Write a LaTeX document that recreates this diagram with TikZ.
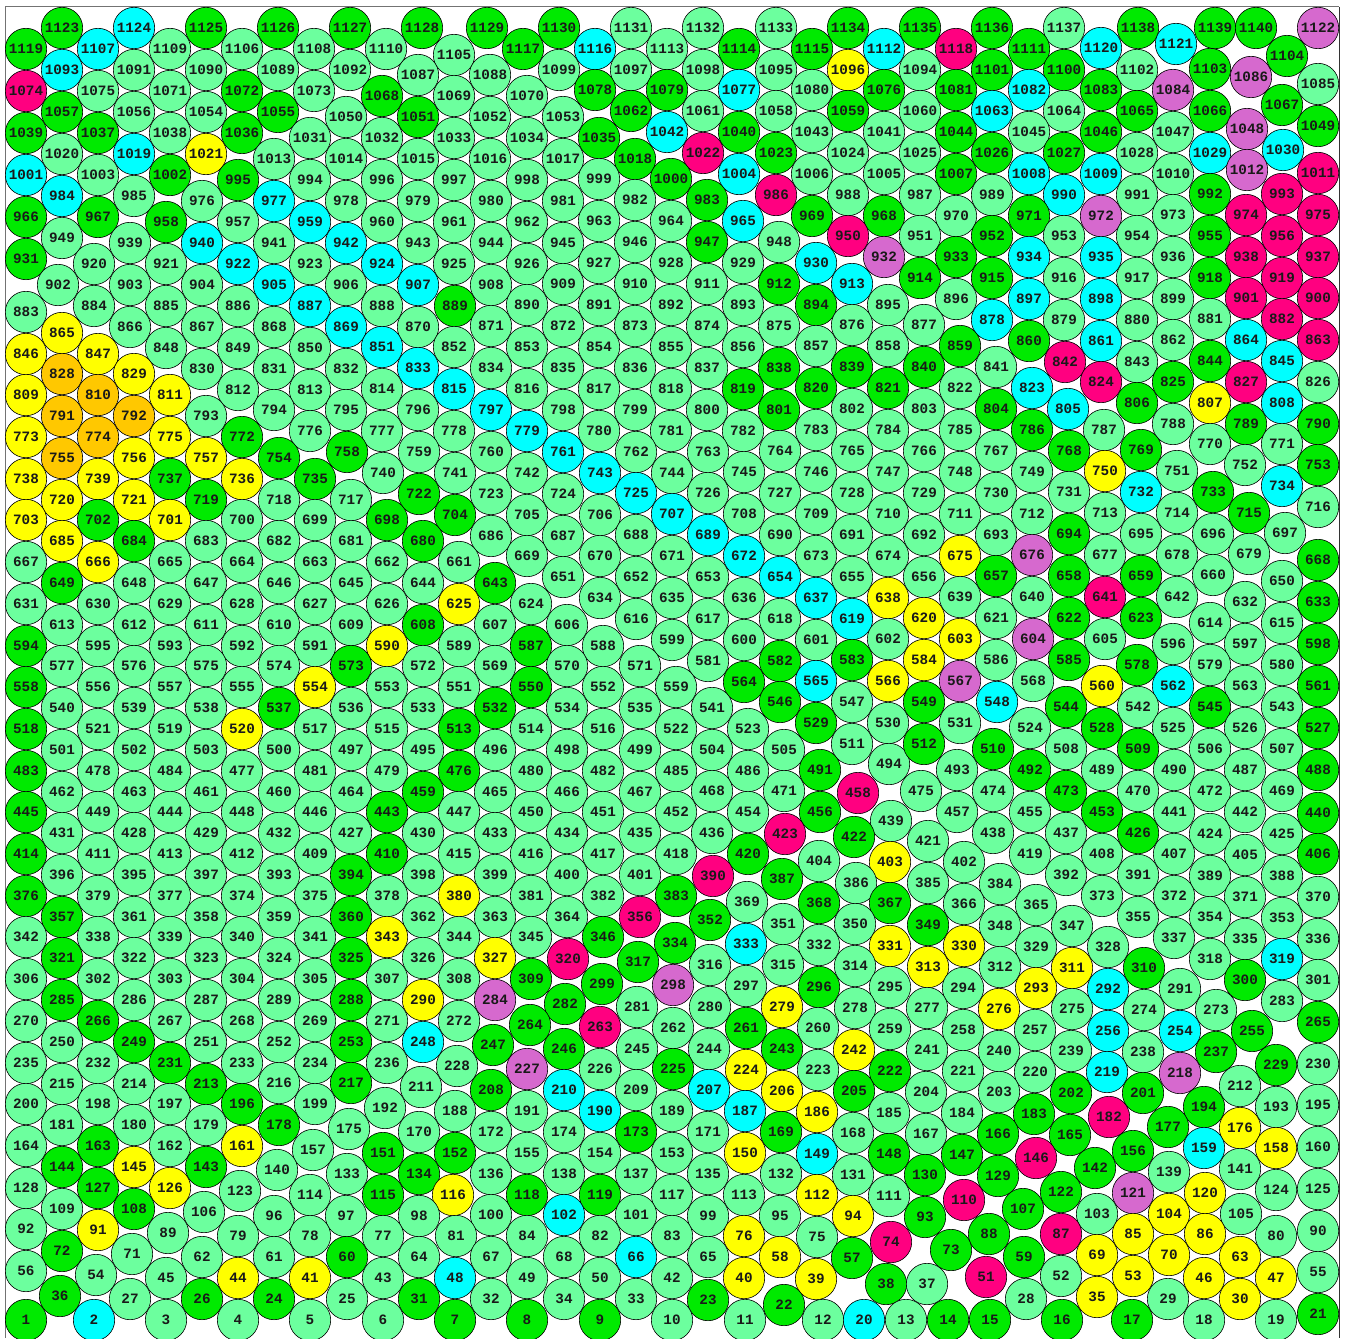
\documentclass[tikz,border=0pt]{standalone}
\usepackage{fontspec}
\setmonofont{Liberation Mono}
\definecolor{clg}{HTML}{6CFF9E}
\definecolor{cgr}{HTML}{00EA00}
\definecolor{ccy}{HTML}{00FFFF}
\definecolor{cye}{HTML}{FFFF00}
\definecolor{cor}{HTML}{FFC800}
\definecolor{cpk}{HTML}{FF0080}
\definecolor{cvi}{HTML}{D669CE}
\tikzset{bub/.style={circle,draw=black,line width=0.6pt,inner sep=0pt,outer sep=0pt,minimum size=41.4pt,text=black!90,font=\ttfamily\bfseries\fontsize{14.3}{15}\selectfont},
cL/.style={fill=clg},cG/.style={fill=cgr},cC/.style={fill=ccy},cY/.style={fill=cye},cO/.style={fill=cor},cP/.style={fill=cpk},cV/.style={fill=cvi}}
\def\N#1 #2 #3 #4;{\node[bub,c#1] (n#4) at (#2,#3) {#4};}
\begin{document}
\begin{tikzpicture}[x=1pt,y=-1pt]
\useasboundingbox (0,0) rectangle (1346,1338);
\fill[white] (0,0) rectangle (1346,1338);
\draw[black!55,line width=1pt] (5,7) -- (1339,7);
\draw[black!55,line width=1pt] (5,7) -- (5,1338);
\draw[black!80,line width=1pt] (1339,7) -- (1339,1338);
\N G 62 28 1123; \N C 134 28 1124; \N G 206 28 1125; \N G 278 28 1126; \N G 350 28 1127; \N G 422 28 1128;
\N G 26 49 1119; \N C 98 49 1107; \N L 170 49 1109; \N L 242 49 1106; \N L 314 49 1108; \N L 386 49 1110; \N L 454 55 1105;
\N C 62 70 1093; \N L 134 70 1091; \N L 206 70 1090; \N L 278 70 1089; \N L 350 70 1092; \N L 418 75 1087;
\N P 26 91 1074; \N L 98 91 1075; \N L 170 91 1071; \N G 242 91 1072; \N L 314 91 1073; \N G 382 96 1068; \N L 454 96 1069;
\N G 62 112 1057; \N L 134 112 1056; \N L 206 112 1054; \N G 278 112 1055; \N L 346 117 1050; \N G 418 117 1051;
\N G 26 133 1039; \N G 98 133 1037; \N L 170 133 1038; \N G 242 133 1036; \N L 310 138 1031; \N L 382 138 1032; \N L 454 138 1033;
\N L 62 154 1020; \N C 134 154 1019; \N Y 206 154 1021; \N L 274 159 1013; \N L 346 159 1014; \N L 418 159 1015;
\N C 26 175 1001; \N L 98 175 1003; \N G 170 175 1002; \N G 238 180 995; \N L 310 180 994; \N L 382 180 996; \N L 454 180 997;
\N C 62 196 984; \N L 134 196 985; \N L 202 201 976; \N C 274 201 977; \N L 346 201 978; \N L 418 201 979;
\N G 26 217 966; \N G 98 217 967; \N G 166 222 958; \N L 238 222 957; \N C 310 222 959; \N L 382 222 960; \N L 454 222 961;
\N L 62 238 949; \N L 130 243 939; \N C 202 243 940; \N L 274 243 941; \N C 346 243 942; \N L 418 243 943;
\N G 26 259 931; \N L 94 264 920; \N L 166 264 921; \N C 238 264 922; \N L 310 264 923; \N C 382 264 924; \N L 454 264 925;
\N L 58 285 902; \N L 130 285 903; \N L 202 285 904; \N C 274 285 905; \N L 346 285 906; \N C 418 285 907; \N L 491 285 908;
\N L 26 312 883; \N L 94 306 884; \N L 166 306 885; \N L 238 306 886; \N C 310 306 887; \N L 382 306 888; \N G 455 306 889;
\N Y 62 333 865; \N L 130 327 866; \N L 202 327 867; \N L 274 327 868; \N C 346 327 869; \N L 418 327 870; \N L 491 326 871;
\N Y 26 354 846; \N Y 98 354 847; \N L 166 348 848; \N L 238 348 849; \N L 310 348 850; \N C 382 347 851; \N L 454 347 852;
\N O 62 374 828; \N Y 134 374 829; \N L 202 369 830; \N L 274 369 831; \N L 346 369 832; \N C 418 368 833; \N L 491 368 834;
\N Y 26 395 809; \N O 98 395 810; \N Y 170 395 811; \N L 238 390 812; \N L 310 390 813; \N L 382 389 814; \N C 454 389 815;
\N O 62 416 791; \N O 134 416 792; \N L 206 416 793; \N L 274 410 794; \N L 346 410 795; \N L 418 410 796; \N C 491 410 797;
\N Y 26 437 773; \N O 98 437 774; \N Y 170 437 775; \N G 242 437 772; \N L 310 431 776; \N L 382 431 777; \N L 454 431 778;
\N O 62 458 755; \N Y 134 458 756; \N Y 206 458 757; \N G 279 458 754; \N G 347 452 758; \N L 419 452 759;
\N Y 26 479 738; \N Y 98 479 739; \N G 170 479 737; \N Y 242 479 736; \N G 315 479 735; \N L 383 473 740; \N L 455 473 741;
\N Y 62 500 720; \N Y 134 500 721; \N G 206 500 719; \N L 279 500 718; \N L 351 500 717; \N G 419 494 722; \N L 491 494 723;
\N Y 26 520 703; \N G 98 520 702; \N Y 170 520 701; \N L 242 520 700; \N L 315 520 699; \N G 387 520 698; \N G 455 515 704;
\N Y 62 541 685; \N G 134 541 684; \N L 206 541 683; \N L 279 541 682; \N L 351 541 681; \N G 423 541 680; \N L 491 536 686;
\N L 26 562 667; \N Y 98 562 666; \N L 170 562 665; \N L 242 562 664; \N L 315 562 663; \N L 387 562 662; \N L 459 562 661;
\N G 62 583 649; \N L 134 583 648; \N L 206 583 647; \N L 279 583 646; \N L 351 583 645; \N L 423 583 644; \N G 495 583 643;
\N L 26 604 631; \N L 98 604 630; \N L 170 604 629; \N L 242 604 628; \N L 315 604 627; \N L 387 604 626; \N Y 459 604 625;
\N L 62 625 613; \N L 134 625 612; \N L 206 625 611; \N L 279 625 610; \N L 351 625 609; \N G 423 625 608; \N L 495 625 607;
\N G 26 646 594; \N L 98 646 595; \N L 170 646 593; \N L 242 646 592; \N L 315 646 591; \N Y 387 646 590; \N L 459 646 589;
\N L 62 666 577; \N L 134 666 576; \N L 206 666 575; \N L 279 666 574; \N G 351 666 573; \N L 423 666 572; \N L 495 666 569;
\N G 26 687 558; \N L 98 687 556; \N L 170 687 557; \N L 242 687 555; \N Y 315 687 554; \N L 387 687 553; \N L 459 687 551;
\N L 62 708 540; \N L 134 708 539; \N L 206 708 538; \N G 279 708 537; \N L 351 708 536; \N L 423 708 533; \N G 495 708 532;
\N G 26 729 518; \N L 98 729 521; \N L 170 729 519; \N Y 242 729 520; \N L 315 729 517; \N L 387 729 515; \N G 459 729 513;
\N L 62 750 501; \N L 134 750 502; \N L 206 750 503; \N L 279 750 500; \N L 351 750 497; \N L 423 750 495; \N L 495 750 496;
\N G 26 771 483; \N L 98 771 478; \N L 170 771 484; \N L 242 771 477; \N L 315 771 481; \N L 387 771 479; \N G 459 771 476;
\N L 62 792 462; \N L 134 792 463; \N L 206 792 461; \N L 279 792 460; \N L 351 792 464; \N G 423 792 459; \N L 495 792 465;
\N G 26 812 445; \N L 98 812 449; \N L 170 812 444; \N L 242 812 448; \N L 315 812 446; \N G 387 812 443; \N L 459 812 447;
\N L 62 833 431; \N L 134 833 428; \N L 206 833 429; \N L 279 833 432; \N L 351 833 427; \N L 423 833 430; \N L 495 833 433;
\N G 26 854 414; \N L 98 854 411; \N L 170 854 413; \N L 242 854 412; \N L 315 854 409; \N G 387 854 410; \N L 459 854 415;
\N L 62 875 396; \N L 134 875 395; \N L 206 875 397; \N L 279 875 393; \N G 351 875 394; \N L 423 875 398; \N L 495 875 399;
\N G 26 896 376; \N L 98 896 379; \N L 170 896 377; \N L 242 896 374; \N L 315 896 375; \N L 387 896 378; \N Y 459 896 380;
\N G 62 917 357; \N L 134 917 361; \N L 206 917 358; \N L 279 917 359; \N G 351 917 360; \N L 423 917 362; \N L 495 917 363;
\N L 26 937 342; \N L 98 937 338; \N L 170 937 339; \N L 242 937 340; \N L 315 937 341; \N Y 387 937 343; \N L 459 937 344;
\N G 62 958 321; \N L 134 958 322; \N L 206 958 323; \N L 279 958 324; \N G 351 958 325; \N L 423 958 326; \N Y 495 958 327;
\N L 26 979 306; \N L 98 979 302; \N L 170 979 303; \N L 242 979 304; \N L 315 979 305; \N L 387 979 307; \N L 459 979 308;
\N G 62 1000 285; \N L 134 1000 286; \N L 206 1000 287; \N L 279 1000 289; \N G 351 1000 288; \N Y 423 1000 290; \N V 495 1000 284;
\N L 26 1021 270; \N G 98 1021 266; \N L 170 1021 267; \N L 242 1021 268; \N L 315 1021 269; \N L 387 1021 271; \N L 459 1021 272;
\N L 62 1042 250; \N G 134 1042 249; \N L 206 1042 251; \N L 279 1042 252; \N G 351 1042 253; \N C 423 1042 248; \N G 493 1045 247;
\N L 26 1063 235; \N L 98 1063 232; \N G 170 1063 231; \N L 242 1063 233; \N L 315 1063 234; \N L 387 1063 236; \N L 457 1066 228;
\N L 62 1084 215; \N L 134 1084 214; \N G 206 1084 213; \N L 279 1083 216; \N G 351 1083 217; \N L 421 1087 211; \N G 491 1090 208;
\N L 26 1104 200; \N L 98 1104 198; \N L 170 1104 197; \N G 242 1104 196; \N L 315 1104 199; \N L 385 1108 192; \N L 455 1111 188;
\N L 62 1125 181; \N L 134 1125 180; \N L 206 1125 179; \N G 279 1125 178; \N L 349 1129 175; \N L 419 1132 170; \N L 491 1132 172;
\N L 26 1146 164; \N G 98 1146 163; \N L 170 1146 162; \N Y 242 1146 161; \N L 313 1150 157; \N G 383 1153 151; \N G 455 1153 152;
\N G 62 1167 144; \N Y 134 1167 145; \N G 206 1167 143; \N L 277 1170 140; \N L 347 1174 133; \N G 419 1174 134; \N L 491 1174 136;
\N L 26 1188 128; \N G 98 1188 127; \N Y 170 1188 126; \N L 240 1191 123; \N L 310 1195 114; \N G 383 1195 115; \N Y 453 1195 116;
\N L 62 1209 109; \N G 134 1209 108; \N L 204 1212 106; \N L 274 1216 96; \N L 346 1216 97; \N L 419 1216 98; \N L 491 1215 100;
\N L 26 1229 92; \N Y 98 1230 91; \N L 168 1233 89; \N L 238 1236 79; \N L 310 1236 78; \N L 383 1236 77; \N L 456 1236 81;
\N G 62 1251 72; \N L 132 1254 71; \N L 202 1257 62; \N L 274 1257 61; \N G 347 1257 60; \N L 419 1257 64; \N L 491 1257 67;
\N L 26 1271 56; \N L 96 1275 54; \N L 166 1278 45; \N Y 238 1278 44; \N Y 310 1278 41; \N L 383 1278 43; \N C 455 1278 48;
\N G 60 1296 36; \N L 130 1299 27; \N G 202 1299 26; \N G 274 1299 24; \N L 347 1299 25; \N G 419 1299 31; \N L 491 1299 32;
\N G 26 1320 1; \N C 94 1320 2; \N L 166 1320 3; \N L 238 1320 4; \N L 310 1320 5; \N L 383 1320 6; \N G 455 1320 7;
\N G 487 28 1129; \N G 559 28 1130; \N L 631 28 1131; \N L 703 28 1132; \N L 776 28 1133; \N G 848 28 1134;
\N G 523 49 1117; \N C 595 49 1116; \N L 667 49 1113; \N G 739 49 1114; \N G 812 49 1115; \N C 884 49 1112;
\N L 490 75 1088; \N L 559 70 1099; \N L 631 70 1097; \N L 703 70 1098; \N L 776 70 1095; \N Y 848 70 1096;
\N L 527 96 1070; \N G 595 90 1078; \N G 667 90 1079; \N C 739 90 1077; \N L 812 90 1080; \N G 884 90 1076;
\N L 490 117 1052; \N L 563 117 1053; \N G 631 111 1062; \N L 703 111 1061; \N L 776 111 1058; \N G 848 111 1059;
\N L 527 138 1034; \N G 599 138 1035; \N C 667 132 1042; \N G 739 132 1040; \N L 812 132 1043; \N L 884 132 1041;
\N L 490 159 1016; \N L 563 159 1017; \N G 635 159 1018; \N P 703 153 1022; \N G 776 153 1023; \N L 848 153 1024;
\N L 527 180 998; \N L 599 179 999; \N G 671 179 1000; \N C 739 174 1004; \N L 812 174 1006; \N L 884 174 1005;
\N L 491 201 980; \N L 563 201 981; \N L 635 200 982; \N G 707 200 983; \N P 776 195 986; \N L 848 195 988;
\N L 527 222 962; \N L 599 221 963; \N L 671 221 964; \N C 743 221 965; \N G 812 216 969; \N G 884 216 968;
\N L 491 243 944; \N L 563 243 945; \N L 635 242 946; \N G 707 242 947; \N L 779 242 948; \N P 848 236 950;
\N L 527 264 926; \N L 599 263 927; \N L 671 263 928; \N L 743 263 929; \N C 816 263 930; \N V 884 257 932;
\N L 563 284 909; \N L 635 284 910; \N L 707 284 911; \N G 779 284 912; \N C 852 284 913;
\N L 527 305 890; \N L 599 305 891; \N L 671 305 892; \N L 743 305 893; \N G 816 305 894; \N L 888 305 895;
\N L 563 326 872; \N L 635 326 873; \N L 707 326 874; \N L 779 326 875; \N L 852 325 876;
\N L 527 347 853; \N L 599 347 854; \N L 671 347 855; \N L 743 347 856; \N L 816 346 857; \N L 888 346 858;
\N L 563 368 835; \N L 635 368 836; \N L 707 368 837; \N G 779 368 838; \N G 852 367 839;
\N L 527 389 816; \N L 599 389 817; \N L 671 389 818; \N G 743 389 819; \N G 816 388 820; \N G 888 388 821;
\N L 563 410 798; \N L 635 410 799; \N L 707 410 800; \N G 779 410 801; \N L 852 409 802;
\N C 527 431 779; \N L 599 431 780; \N L 671 431 781; \N L 743 431 782; \N L 816 430 783; \N L 888 430 784;
\N L 491 452 760; \N C 563 452 761; \N L 636 452 762; \N L 708 452 763; \N L 780 451 764; \N L 852 451 765;
\N L 527 473 742; \N C 600 473 743; \N L 672 473 744; \N L 744 472 745; \N L 816 472 746; \N L 888 472 747;
\N L 563 494 724; \N C 636 493 725; \N L 708 493 726; \N L 780 493 727; \N L 852 493 728;
\N L 527 515 705; \N L 600 515 706; \N C 672 514 707; \N L 744 514 708; \N L 816 514 709; \N L 888 514 710;
\N L 563 536 687; \N L 636 535 688; \N C 708 535 689; \N L 780 535 690; \N L 852 535 691;
\N L 527 556 669; \N L 600 556 670; \N L 672 556 671; \N C 744 556 672; \N L 816 556 673; \N L 888 556 674;
\N L 563 577 651; \N L 636 577 652; \N L 708 577 653; \N C 780 577 654; \N L 852 577 655;
\N L 531 604 624; \N L 600 598 634; \N L 672 598 635; \N L 744 598 636; \N C 816 598 637; \N Y 888 598 638;
\N L 567 625 606; \N L 636 619 616; \N L 708 619 617; \N L 780 619 618; \N C 852 619 619;
\N G 531 646 587; \N L 603 646 588; \N L 672 640 599; \N L 744 640 600; \N L 816 640 601; \N L 888 639 602;
\N L 567 666 570; \N L 640 666 571; \N L 708 661 581; \N G 780 661 582; \N G 852 660 583;
\N G 531 687 550; \N L 603 687 552; \N L 676 687 559; \N G 744 682 564; \N C 816 681 565; \N Y 888 681 566;
\N L 567 708 534; \N L 640 708 535; \N L 712 708 541; \N G 780 702 546; \N L 852 702 547;
\N L 531 729 514; \N L 603 729 516; \N L 676 729 522; \N L 748 729 523; \N G 816 723 529; \N L 888 723 530;
\N L 567 750 498; \N L 640 750 499; \N L 712 750 504; \N L 784 750 505; \N L 852 744 511;
\N L 531 771 480; \N L 603 771 482; \N L 676 771 485; \N L 748 771 486; \N G 820 770 491; \N L 889 764 494;
\N L 567 792 466; \N L 640 792 467; \N L 712 791 468; \N L 784 791 471; \N P 858 793 458;
\N L 531 812 450; \N L 603 812 451; \N L 676 812 452; \N L 748 812 454; \N G 820 812 456; \N L 891 821 439;
\N L 567 833 434; \N L 640 833 435; \N L 712 833 436; \N P 785 834 423; \N G 854 837 422;
\N L 531 854 416; \N L 603 854 417; \N L 676 854 418; \N G 748 854 420; \N L 819 861 404; \N Y 890 862 403;
\N L 567 875 400; \N L 640 875 401; \N P 713 876 390; \N G 782 879 387; \N L 856 883 386;
\N L 531 896 381; \N L 603 896 382; \N G 676 896 383; \N L 747 902 369; \N G 819 903 368; \N G 890 903 367;
\N L 567 917 364; \N P 640 917 356; \N G 710 920 352; \N L 783 924 351; \N L 855 924 350;
\N L 531 937 345; \N G 603 937 346; \N G 675 943 334; \N C 746 944 333; \N L 819 945 332; \N Y 890 946 331;
\N P 568 959 320; \N G 638 962 317; \N L 710 965 316; \N L 783 965 315; \N L 855 966 314;
\N G 531 979 309; \N G 602 984 299; \N V 673 985 298; \N L 746 986 297; \N G 819 987 296; \N L 890 987 295;
\N G 565 1004 282; \N L 637 1007 281; \N L 710 1007 280; \N Y 782 1007 279; \N L 855 1008 278;
\N G 530 1025 264; \N P 600 1027 263; \N L 673 1028 262; \N G 746 1028 261; \N L 818 1028 260; \N L 890 1029 259;
\N G 564 1049 246; \N L 637 1049 245; \N L 709 1049 244; \N G 782 1049 243; \N Y 854 1050 242;
\N V 527 1069 227; \N L 600 1069 226; \N G 673 1069 225; \N Y 746 1070 224; \N L 818 1070 223; \N G 890 1071 222;
\N C 564 1090 210; \N L 636 1090 209; \N C 709 1090 207; \N Y 782 1091 206; \N G 854 1091 205;
\N L 527 1111 191; \N C 600 1111 190; \N L 672 1111 189; \N C 745 1111 187; \N Y 817 1112 186; \N L 889 1113 185;
\N L 564 1132 174; \N G 636 1132 173; \N L 708 1132 171; \N G 781 1132 169; \N L 853 1133 168;
\N L 527 1153 155; \N L 600 1153 154; \N L 672 1153 153; \N Y 745 1153 150; \N C 817 1154 149; \N G 889 1154 148;
\N L 564 1174 138; \N L 636 1174 137; \N L 708 1174 135; \N L 781 1174 132; \N L 853 1175 131;
\N G 527 1195 118; \N G 600 1195 119; \N L 672 1195 117; \N L 744 1195 113; \N Y 817 1195 112; \N L 889 1196 111;
\N C 564 1215 102; \N L 636 1215 101; \N L 708 1216 99; \N L 780 1216 95; \N Y 853 1216 94;
\N L 527 1236 84; \N L 600 1236 82; \N L 672 1236 83; \N Y 744 1236 76; \N L 817 1237 75; \N P 891 1242 74;
\N L 564 1257 68; \N C 636 1257 66; \N L 708 1257 65; \N Y 780 1257 58; \N G 852 1258 57;
\N L 527 1278 49; \N L 600 1278 50; \N L 672 1278 42; \N Y 744 1278 40; \N Y 816 1279 39; \N G 886 1284 38;
\N L 564 1299 34; \N L 636 1299 33; \N G 708 1300 23; \N G 784 1305 22;
\N G 527 1320 8; \N G 600 1320 9; \N L 672 1320 10; \N L 745 1320 11; \N L 823 1320 12; \N C 864 1320 20;
\N G 920 28 1135; \N G 992 28 1136; \N L 1064 28 1137; \N G 1138 28 1138; \N G 1215 28 1139; \N G 1256 28 1140; \N V 1318 28 1122;
\N P 956 49 1118; \N G 1029 49 1111; \N C 1101 48 1120; \N C 1176 44 1121; \N G 1287 56 1104;
\N L 920 70 1094; \N G 992 70 1101; \N G 1064 70 1100; \N L 1137 70 1102; \N G 1210 69 1103; \N V 1251 77 1086; \N L 1318 84 1085;
\N G 956 90 1081; \N C 1029 90 1082; \N G 1101 90 1083; \N V 1173 90 1084; \N G 1282 105 1067;
\N L 920 111 1060; \N C 992 111 1063; \N L 1064 111 1064; \N G 1137 111 1065; \N G 1210 111 1066; \N G 1318 126 1049; \N V 1247 129 1048;
\N G 956 132 1044; \N L 1029 132 1045; \N G 1101 132 1046; \N L 1173 132 1047; \N C 1283 150 1030;
\N L 920 153 1025; \N G 992 153 1026; \N G 1064 153 1027; \N L 1137 153 1028; \N C 1210 153 1029; \N V 1247 170 1012; \N P 1318 173 1011;
\N G 956 174 1007; \N C 1029 174 1008; \N C 1101 174 1009; \N L 1173 174 1010; \N P 1282 194 993;
\N L 920 195 987; \N L 992 195 989; \N C 1064 195 990; \N L 1137 195 991; \N G 1210 194 992; \N P 1246 215 974; \N P 1318 215 975;
\N L 956 216 970; \N G 1029 216 971; \N V 1101 216 972; \N L 1173 215 973;
\N L 920 236 951; \N G 992 236 952; \N L 1064 236 953; \N L 1137 236 954; \N G 1210 236 955; \N P 1282 236 956;
\N G 956 257 933; \N C 1029 257 934; \N C 1101 257 935; \N L 1173 257 936; \N P 1246 257 938; \N P 1318 257 937;
\N G 920 278 914; \N G 992 278 915; \N L 1064 278 916; \N L 1137 278 917; \N G 1210 278 918; \N P 1282 278 919;
\N L 956 299 896; \N C 1029 299 897; \N C 1101 299 898; \N L 1173 299 899; \N P 1246 298 901; \N P 1318 298 900;
\N L 924 325 877; \N C 992 320 878; \N L 1064 320 879; \N L 1137 320 880; \N L 1210 319 881; \N P 1282 319 882;
\N G 960 346 859; \N G 1029 341 860; \N C 1101 341 861; \N L 1173 340 862; \N C 1246 340 864; \N P 1318 340 863;
\N G 924 367 840; \N L 996 367 841; \N P 1065 362 842; \N L 1137 362 843; \N G 1210 361 844; \N C 1282 361 845;
\N L 960 388 822; \N C 1032 388 823; \N P 1101 382 824; \N G 1173 382 825; \N P 1246 382 827; \N L 1318 382 826;
\N L 924 409 803; \N G 996 409 804; \N C 1068 409 805; \N G 1137 403 806; \N Y 1210 403 807; \N C 1282 403 808;
\N L 960 430 785; \N G 1032 430 786; \N L 1104 430 787; \N L 1173 424 788; \N G 1246 424 789; \N G 1318 424 790;
\N L 1210 444 770; \N L 1282 444 771;
\N L 924 451 766; \N L 996 451 767; \N G 1069 451 768; \N G 1141 450 769;
\N L 960 472 748; \N L 1032 472 749; \N Y 1105 471 750; \N L 1177 471 751; \N L 1245 465 752; \N G 1318 465 753;
\N L 924 493 729; \N L 996 493 730; \N L 1069 492 731; \N C 1141 492 732; \N G 1213 492 733; \N C 1282 486 734; \N L 1318 507 716;
\N L 960 514 711; \N L 1032 514 712; \N L 1105 513 713; \N L 1177 513 714; \N G 1249 513 715;
\N L 924 535 692; \N L 996 535 693; \N G 1069 534 694; \N L 1141 534 695; \N L 1213 534 696; \N L 1285 533 697;
\N Y 960 556 675; \N V 1032 555 676; \N L 1105 555 677; \N L 1177 555 678; \N L 1249 554 679; \N G 1318 560 668;
\N L 924 577 656; \N G 996 576 657; \N G 1069 576 658; \N G 1141 576 659; \N L 1213 575 660; \N L 1282 581 650;
\N L 960 597 639; \N L 1032 597 640; \N P 1105 597 641; \N L 1177 597 642; \N L 1245 602 632; \N G 1318 602 633;
\N Y 924 618 620; \N L 996 618 621; \N G 1069 618 622; \N G 1141 618 623; \N L 1210 623 614; \N L 1282 623 615;
\N Y 960 639 603; \N V 1033 639 604; \N L 1105 639 605; \N L 1173 644 596; \N L 1245 644 597; \N G 1318 644 598;
\N Y 924 660 584; \N L 996 660 586; \N G 1069 660 585; \N G 1137 665 578; \N L 1210 665 579; \N L 1282 665 580;
\N V 960 681 567; \N L 1033 681 568; \N Y 1102 686 560; \N C 1173 686 562; \N L 1245 686 563; \N G 1318 686 561;
\N G 924 702 549; \N C 997 702 548; \N G 1066 707 544; \N L 1138 707 542; \N G 1210 707 545; \N L 1282 707 543;
\N L 960 723 531; \N L 1030 728 524; \N G 1102 728 528; \N L 1173 728 525; \N L 1245 728 526; \N G 1318 728 527;
\N G 924 744 512; \N G 993 749 510; \N L 1066 749 508; \N G 1138 749 509; \N L 1210 749 506; \N L 1282 749 507;
\N L 957 770 493; \N G 1030 770 492; \N L 1102 770 489; \N L 1174 770 490; \N L 1245 770 487; \N G 1318 770 488;
\N L 921 791 475; \N L 993 791 474; \N G 1066 791 473; \N L 1138 791 470; \N L 1210 791 472; \N L 1282 791 469;
\N L 957 812 457; \N L 1030 812 455; \N G 1102 812 453; \N L 1174 812 441; \N L 1245 812 442; \N G 1318 813 440;
\N L 993 833 438; \N L 1066 833 437; \N G 1138 833 426; \N L 1210 834 424; \N L 1282 834 425;
\N L 928 841 421; \N L 1030 854 419; \N L 1102 854 408; \N L 1174 854 407; \N L 1245 855 405; \N G 1318 854 406;
\N L 964 862 402; \N L 1066 875 392; \N L 1138 875 391; \N L 1210 876 389; \N L 1282 876 388;
\N L 928 883 385; \N L 1000 884 384;
\N L 1102 896 373; \N L 1174 896 372; \N L 1245 897 371; \N L 1318 897 370;
\N L 964 904 366; \N L 1036 905 365; \N L 1138 917 355; \N L 1210 917 354; \N L 1282 918 353;
\N G 928 925 349; \N L 1000 926 348; \N L 1072 926 347; \N L 1174 938 337; \N L 1245 939 335; \N L 1318 939 336;
\N Y 964 946 330; \N L 1036 947 329; \N L 1108 947 328; \N L 1210 959 318; \N C 1282 959 319;
\N Y 928 967 313; \N L 1000 967 312; \N Y 1072 968 311; \N G 1144 968 310; \N G 1245 980 300; \N L 1318 980 301;
\N L 963 988 294; \N Y 1036 988 293; \N C 1108 989 292; \N L 1180 989 291; \N L 1282 1001 283;
\N L 927 1008 277; \N Y 999 1009 276; \N L 1072 1009 275; \N L 1144 1010 274; \N L 1216 1010 273; \N G 1318 1022 265;
\N L 963 1030 258; \N L 1035 1030 257; \N C 1108 1031 256; \N C 1180 1031 254; \N G 1252 1031 255;
\N L 927 1050 241; \N L 999 1051 240; \N L 1071 1051 239; \N L 1143 1052 238; \N G 1216 1052 237; \N L 1318 1064 230; \N G 1276 1065 229;
\N L 963 1071 221; \N L 1035 1072 220; \N C 1107 1072 219; \N V 1180 1073 218; \N L 1240 1086 212;
\N L 926 1092 204; \N L 999 1092 203; \N G 1071 1093 202; \N G 1143 1093 201; \N L 1318 1105 195; \N G 1204 1107 194; \N L 1276 1107 193;
\N L 962 1113 184; \N G 1034 1114 183; \N P 1109 1117 182; \N G 1168 1127 177; \N Y 1240 1128 176;
\N L 926 1134 167; \N G 998 1134 166; \N G 1070 1135 165; \N L 1318 1147 160; \N C 1204 1148 159; \N Y 1276 1148 158; \N G 1133 1151 156;
\N G 962 1155 147; \N P 1036 1158 146; \N G 1095 1168 142; \N L 1240 1169 141; \N L 1169 1172 139;
\N G 925 1175 130; \N G 998 1176 129; \N L 1318 1189 125; \N L 1276 1190 124; \N G 1061 1192 122; \N V 1133 1193 121; \N Y 1205 1193 120;
\N P 964 1200 110; \N G 1023 1209 107; \N L 1241 1214 105; \N Y 1169 1214 104; \N L 1097 1214 103; \N G 925 1217 93;
\N L 1318 1231 90; \N G 989 1234 88; \N P 1061 1234 87; \N Y 1133 1234 85; \N Y 1205 1234 86; \N L 1276 1236 80;
\N G 951 1250 73; \N Y 1097 1255 69; \N Y 1169 1255 70; \N Y 1240 1257 63; \N G 1024 1257 59;
\N L 1318 1272 55; \N Y 1133 1276 53; \N L 1061 1276 52; \N P 986 1277 51; \N Y 1276 1278 47; \N Y 1204 1278 46; \N L 927 1284 37;
\N Y 1097 1297 35; \N Y 1240 1299 30; \N L 1168 1299 29; \N L 1026 1299 28; \N G 1318 1314 21;
\N L 906 1320 13; \N G 948 1320 14; \N G 990 1320 15; \N G 1062 1320 16; \N G 1132 1320 17; \N L 1204 1320 18; \N L 1276 1320 19;
\end{tikzpicture}
\end{document}
